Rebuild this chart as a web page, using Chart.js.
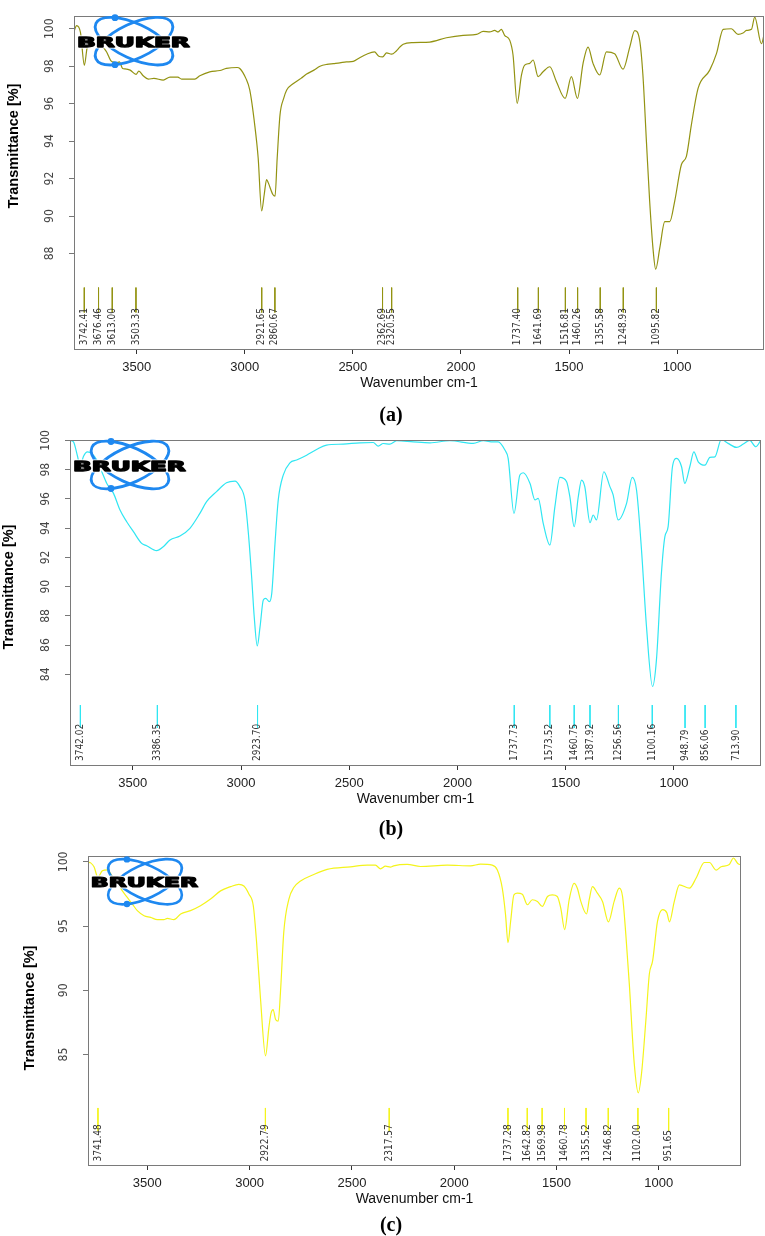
<!DOCTYPE html>
<html>
<head>
<meta charset="utf-8">
<title>FTIR spectra (a) (b) (c)</title>
<script src="https://cdn.jsdelivr.net/npm/chart.js"></script>
<style>
  body { margin: 0; background: #fff; width: 765px; height: 1236px; position: relative; overflow: hidden; }
  canvas { position: absolute; left: 0; }
  .tag { position: absolute; font: bold 20px 'Liberation Serif', 'Times New Roman', serif; color: #000; transform: translate(-50%, -50%); }
</style>
</head>
<body>
<canvas id="chartA" width="765" height="399" style="top:0px"></canvas>
<canvas id="chartB" width="765" height="400" style="top:415px"></canvas>
<canvas id="chartC" width="765" height="375" style="top:840px"></canvas>
<div class="tag" style="left:391px; top:414px">(a)</div>
<div class="tag" style="left:391px; top:828px">(b)</div>
<div class="tag" style="left:391px; top:1224px">(c)</div>

<script>
// wavenumber axis, shared by the three panels
const xTicks = [3500, 3000, 2500, 2000, 1500, 1000];

// panel (a)
const wnA = [3790, 3778, 3760, 3742, 3730, 3719, 3690, 3670, 3650, 3639, 3620, 3600, 3593, 3580, 3565, 3554, 3530, 3503, 3490, 3470,
  3446, 3420, 3377, 3346, 3310, 3292, 3231, 3208, 3162, 3115, 3085, 3035, 3023, 2995, 2977, 2954, 2938, 2922, 2910, 2899,
  2891, 2870, 2860, 2850, 2837, 2820, 2806, 2775, 2740, 2714, 2680, 2652, 2620, 2590, 2560, 2530, 2498, 2470, 2436, 2400,
  2380, 2362, 2344, 2321, 2300, 2283, 2267, 2221, 2144, 2067, 1990, 1928, 1897, 1867, 1844, 1828, 1813, 1798, 1774, 1759,
  1740, 1720, 1705, 1682, 1666, 1643, 1620, 1589, 1558, 1518, 1489, 1461, 1435, 1412, 1389, 1358, 1327, 1289, 1250, 1219,
  1196, 1173, 1158, 1142, 1127, 1111, 1099, 1080, 1057, 1034, 1011, 980, 957, 934, 903, 849, 818, 787, 749, 718,
  695, 679, 656, 641, 610, 594];
const tA = [99.86, 100.17, 99.8, 98.05, 98.94, 99.33, 99.4, 99.2, 98.94, 98.76, 98.3, 98.2, 98.18, 98.23, 97.88, 97.86, 97.79, 97.56, 97.74, 97.49,
  97.31, 97.35, 97.26, 97.42, 97.42, 97.31, 97.31, 97.49, 97.7, 97.77, 97.88, 97.93, 97.88, 97.35, 96.73, 94.87, 93.1, 90.27, 91.15, 91.95,
  91.77, 91.15, 91.06, 93.1, 95.4, 96.28, 96.73, 97.08, 97.35, 97.58, 97.79, 98.0, 98.1, 98.14, 98.18, 98.23, 98.26, 98.44, 98.64, 98.76,
  98.53, 98.5, 98.71, 98.64, 98.8, 99.02, 99.17, 99.26, 99.29, 99.52, 99.65, 99.7, 99.86, 99.83, 99.91, 99.83, 99.97, 99.65, 99.38, 98.6,
  96.02, 97.53, 98.06, 98.15, 98.33, 97.44, 97.7, 97.97, 97.17, 96.28, 97.44, 96.28, 98.15, 99.02, 98.15, 97.53, 98.76, 98.67, 97.84, 99.02,
  99.9, 99.37, 97.5, 94.0, 90.8, 88.2, 87.16, 88.3, 89.7, 89.7, 90.8, 92.75, 93.19, 94.87, 96.82, 97.79, 98.67, 99.97, 100.0, 99.7,
  99.77, 99.91, 99.97, 100.62, 99.2, 99.91];
const peaksA = [3742.41, 3676.46, 3613.00, 3503.33, 2921.65, 2860.67, 2362.69, 2320.55, 1737.40, 1641.69, 1516.81, 1460.26, 1355.58, 1248.93, 1095.82];
const yTicksA = [88, 90, 92, 94, 96, 98, 100];

// panel (b)
const wnB = [3789, 3774, 3755, 3743, 3728, 3709, 3689, 3666, 3643, 3620, 3589, 3559, 3528, 3497, 3459, 3436, 3390, 3359, 3328, 3282,
  3236, 3190, 3159, 3113, 3067, 3028, 3005, 2982, 2966, 2951, 2939, 2925, 2912, 2897, 2886, 2869, 2858, 2843, 2828, 2805,
  2774, 2743, 2697, 2651, 2605, 2528, 2451, 2389, 2366, 2343, 2313, 2281, 2204, 2127, 2035, 1927, 1881, 1835, 1812, 1781,
  1766, 1739, 1712, 1696, 1665, 1642, 1627, 1604, 1573, 1550, 1527, 1496, 1481, 1461, 1442, 1427, 1412, 1388, 1373, 1358,
  1324, 1296, 1281, 1258, 1219, 1193, 1173, 1150, 1127, 1099, 1081, 1058, 1042, 1027, 1007, 988, 965, 950, 927, 908,
  888, 857, 834, 811, 781, 750, 711, 680, 650, 622, 599];
const tB = [100, 99.9, 98.9, 98.2, 98.9, 99.22, 99.1, 98.66, 97.86, 97.06, 96.38, 95.24, 94.44, 93.76, 92.96, 92.8, 92.46, 92.73, 93.19, 93.46,
  93.99, 95.01, 95.81, 96.5, 97.11, 97.22, 96.84, 95.93, 93.65, 90.68, 87.94, 85.94, 87.26, 89.09, 89.2, 88.97, 89.54, 92.96, 95.93, 97.63,
  98.47, 98.66, 98.99, 99.38, 99.68, 99.75, 99.84, 99.86, 99.61, 99.79, 99.75, 99.98, 99.9, 99.84, 99.98, 99.8, 99.98, 99.9, 99.9, 99.34,
  98.77, 95.01, 97.63, 97.79, 97.06, 95.93, 96.04, 94.33, 92.85, 95.47, 97.47, 97.18, 96.15, 94.1, 96.15, 97.29, 96.84, 94.38, 94.9, 94.56,
  97.86, 96.84, 96.27, 94.56, 95.7, 97.47, 96.61, 92.51, 87.27, 83.17, 84.99, 90.92, 93.42, 94.1, 98.2, 98.77, 98.2, 97.06, 98.2, 99.22,
  98.54, 98.31, 98.84, 98.88, 100.07, 99.8, 99.52, 99.75, 100.0, 99.57, 100.0];
const peaksB = [3742.02, 3386.35, 2923.70, 1737.73, 1573.52, 1460.75, 1387.92, 1256.56, 1100.16, 948.79, 856.06, 713.90];
const yTicksB = [84, 86, 88, 90, 92, 94, 96, 98, 100];

// panel (c)
const wnC = [3788, 3777, 3760, 3742, 3720, 3695, 3672, 3647, 3622, 3598, 3573, 3549, 3516, 3484, 3451, 3419, 3402, 3370, 3337, 3289,
  3240, 3191, 3142, 3093, 3053, 3028, 3003, 2982, 2966, 2947, 2922, 2906, 2895, 2885, 2873, 2860, 2849, 2833, 2808, 2784,
  2751, 2686, 2621, 2507, 2425, 2385, 2360, 2336, 2312, 2296, 2230, 2165, 2034, 1920, 1871, 1814, 1789, 1765, 1749, 1737,
  1724, 1708, 1691, 1667, 1642, 1618, 1593, 1569, 1544, 1520, 1496, 1479, 1460, 1438, 1414, 1398, 1381, 1353, 1340, 1324,
  1300, 1275, 1246, 1218, 1193, 1177, 1161, 1144, 1120, 1100, 1084, 1063, 1046, 1030, 1006, 981, 960, 948, 924, 899,
  850, 818, 777, 752, 720, 695, 655, 635, 614, 593];
const tC = [99.97, 99.92, 99.6, 98.8, 99.3, 99.38, 98.9, 98.38, 97.74, 97.23, 96.71, 96.2, 95.81, 95.68, 95.5, 95.5, 95.6, 95.5, 95.94, 96.2,
  96.58, 97.1, 97.74, 98.07, 98.25, 98.12, 97.48, 96.58, 93.76, 89.39, 84.9, 87.08, 88.24, 88.5, 87.73, 87.6, 89.9, 94.53, 97.1, 98.0,
  98.51, 99.02, 99.41, 99.61, 99.74, 99.74, 99.46, 99.66, 99.59, 99.69, 99.8, 99.64, 99.74, 99.69, 99.82, 99.74, 99.36, 97.95, 95.89, 93.71,
  95.38, 97.43, 97.56, 97.48, 96.66, 97.05, 96.92, 96.53, 97.3, 97.43, 97.3, 96.4, 94.73, 97.05, 98.33, 97.95, 96.92, 95.94, 97.05, 98.07,
  97.56, 96.92, 95.33, 96.92, 97.95, 97.3, 94.35, 90.5, 84.33, 82.02, 83.56, 87.67, 91.27, 92.29, 95.38, 96.28, 96.02, 95.33, 96.92, 98.2,
  97.95, 98.72, 99.95, 99.95, 99.36, 99.62, 99.8, 100.3, 99.87, 99.74];
const peaksC = [3741.48, 2922.79, 2317.57, 1737.28, 1642.82, 1569.98, 1460.78, 1355.52, 1246.82, 1102.00, 951.65];
const yTicksC = [85, 90, 95, 100];

const narrow = "'Liberation Sans Narrow', 'DejaVu Sans Condensed', sans-serif";
const sans = "'Liberation Sans', Arial, sans-serif";

// frame, y title, peak labels and the Bruker logo
const decorPlugin = {
  id: 'decor',
  afterDatasetsDraw(chart, args, opts) {
    const ctx = chart.ctx;
    const a = chart.chartArea;
    const xs = chart.scales.x, ys = chart.scales.y;
    ctx.save();
    ctx.strokeStyle = '#7a7a7a';
    ctx.lineWidth = 1;
    ctx.strokeRect(Math.round(a.left) + 0.5, Math.round(a.top) + 0.5, Math.round(a.width) - 1, Math.round(a.height));

    // y axis title (sits a bit above the plot centre in the source figure)
    ctx.save();
    ctx.translate(opts.yTitle[0], opts.yTitle[1]);
    ctx.rotate(-Math.PI / 2);
    ctx.font = 'bold 14.5px ' + sans;
    ctx.fillStyle = '#000';
    ctx.textAlign = 'center';
    ctx.textBaseline = 'middle';
    ctx.fillText('Transmittance [%]', 0, 0);
    ctx.restore();

    // peak labels, reading upward
    ctx.fillStyle = '#333';
    ctx.font = '10px ' + narrow;
    ctx.textAlign = 'left';
    ctx.textBaseline = 'middle';
    opts.peaks.forEach(p => {
      ctx.save();
      ctx.translate(xs.getPixelForValue(p), ys.getPixelForValue(opts.labelY));
      ctx.rotate(-Math.PI / 2);
      ctx.fillText(p.toFixed(2), 0, 0);
      ctx.restore();
    });

    // logo
    ctx.translate(a.left + opts.logo[0], a.top + opts.logo[1]);
    ctx.scale(opts.logo[2], opts.logo[2]);
    ctx.strokeStyle = '#1e88f0';
    ctx.fillStyle = '#1e88f0';
    ctx.lineWidth = 2.8;
    [25, -25].forEach(d => {
      ctx.beginPath();
      ctx.ellipse(0, 0, 42, 17.5, d * Math.PI / 180, 0, Math.PI * 2);
      ctx.stroke();
    });
    [[-19, -23.5], [-19, 23.5]].forEach(([dx, dy]) => {
      ctx.beginPath();
      ctx.arc(dx, dy, 3.4, 0, Math.PI * 2);
      ctx.fill();
    });
    ctx.font = "bold 14px 'DejaVu Sans', sans-serif";
    const w = ctx.measureText('BRUKER').width;
    ctx.translate(-0.6, 2);
    ctx.scale(113 / w, 1);
    ctx.textAlign = 'center';
    ctx.textBaseline = 'middle';
    ctx.lineJoin = 'round';
    ctx.lineWidth = 3.2;
    ctx.strokeStyle = '#fff';
    ctx.strokeText('BRUKER', 0, 0);
    ctx.lineWidth = 1.3;
    ctx.strokeStyle = '#000';
    ctx.strokeText('BRUKER', 0, 0);
    ctx.fillStyle = '#000';
    ctx.fillText('BRUKER', 0, 0);
    ctx.restore();
  }
};

function peakSegments(peaks, top, bottom) {
  const pts = [];
  peaks.forEach(p => {
    pts.push({ x: p, y: top }, { x: p, y: bottom }, { x: p, y: null });
  });
  return pts;
}

function makePanel(id, wn, t, peaks, yTicks, p) {
  return new Chart(document.getElementById(id), {
    type: 'line',
    data: {
      datasets: [
        {
          data: wn.map((w, i) => ({ x: w, y: t[i] })),
          borderColor: p.color,
          borderWidth: 1.2,
          pointRadius: 0,
          cubicInterpolationMode: 'monotone',
          fill: false
        },
        {
          data: peakSegments(peaks, p.markTop, p.markBottom),
          borderColor: p.color,
          borderWidth: 1,
          pointRadius: 0,
          tension: 0,
          spanGaps: false
        }
      ]
    },
    options: {
      responsive: false,
      animation: false,
      events: [],
      layout: { padding: { top: p.padTop, right: p.padRight, left: 0, bottom: 0 } },
      plugins: {
        legend: { display: false },
        tooltip: { enabled: false },
        decor: { peaks: peaks, labelY: p.labelY, logo: p.logo, yTitle: p.yTitle }
      },
      scales: {
        x: {
          type: 'linear',
          reverse: true,
          min: 598,
          max: 3790,
          afterBuildTicks: s => { s.ticks = xTicks.map(v => ({ value: v })); },
          afterFit: s => { s.height = 50; },
          border: { display: false },
          grid: { drawOnChartArea: false, tickLength: 5, color: '#333' },
          ticks: {
            color: '#222',
            padding: 6,
            maxRotation: 0,
            font: { family: sans, size: 13 },
            callback: v => String(v)
          },
          title: {
            display: true,
            text: 'Wavenumber cm-1',
            color: '#111',
            font: { family: sans, size: 14 },
            padding: { top: 0, bottom: 7 }
          }
        },
        y: {
          min: p.yMin,
          max: p.yMax,
          afterBuildTicks: s => { s.ticks = yTicks.map(v => ({ value: v })); },
          afterFit: s => { s.width = p.yWidth; },
          border: { display: false },
          grid: { drawOnChartArea: false, tickLength: 5, color: '#777' },
          ticks: {
            color: '#444',
            minRotation: 90,
            maxRotation: 90,
            crossAlign: 'center',
            padding: 9,
            font: { family: narrow, size: 12 },
            callback: v => String(v)
          },
          title: { display: false }
        }
      }
    },
    plugins: [decorPlugin]
  });
}

makePanel('chartA', wnA, tA, peaksA, yTicksA, {
  color: '#939312', yMin: 82.9, yMax: 100.67, padTop: 14, padRight: 1, yWidth: 74, yTitle: [14, 146],
  markTop: 86.18, markBottom: 84.85, labelY: 83.1, logo: [60, 25, 1]
});
makePanel('chartB', wnB, tB, peaksB, yTicksB, {
  color: '#30e6f2', yMin: 77.8, yMax: 100.03, padTop: 25, padRight: 4, yWidth: 70, yTitle: [8.5, 172],
  markTop: 81.9, markBottom: 80.33, labelY: 78.07, logo: [60, 25, 1]
});
makePanel('chartC', wnC, tC, peaksC, yTicksC, {
  color: '#f4f41c', yMin: 76.4, yMax: 100.44, padTop: 13, padRight: 24, yWidth: 88, yTitle: [30, 168],
  markTop: 80.84, markBottom: 79.04, labelY: 76.68, logo: [57, 25.5, 0.95]
});
</script>
</body>
</html>
